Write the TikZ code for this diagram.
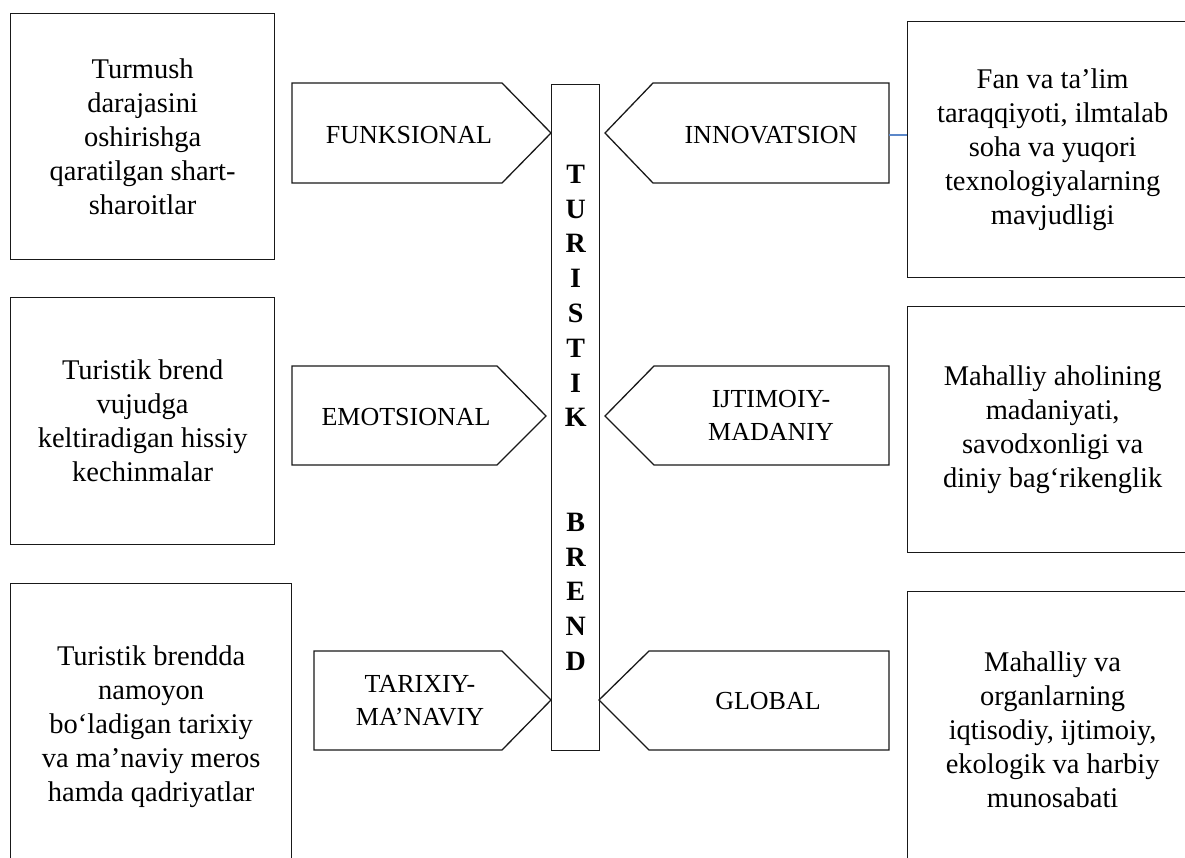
\documentclass[tikz,border=0pt]{standalone}
\usepackage{fontspec}
\setmainfont{Liberation Serif}
\definecolor{linkblue}{HTML}{5B87C9}
\begin{document}
\begin{tikzpicture}[x=1pt,y=-1pt,
  frame/.style={draw=black!90, line width=1.3pt},
  infobox/.style={frame, anchor=north west, inner sep=0pt, align=center,
    font=\fontsize{28.5}{34}\selectfont},
  tag/.style={inner sep=0pt, align=center, font=\fontsize{26}{33}\selectfont},
  pointer/.style={frame, line join=miter}]
\useasboundingbox (0,0) rectangle (1185,857);
\clip (0,0) rectangle (1185,857);

% left column of description boxes
\node[infobox, minimum width=264pt, minimum height=246pt] (tl) at (10,13)
  {Turmush\\darajasini\\oshirishga\\qaratilgan shart-\\sharoitlar};
\node[infobox, minimum width=264pt, minimum height=247pt] (ml) at (10,297)
  {Turistik brend\\vujudga\\keltiradigan hissiy\\kechinmalar};
\node[infobox, minimum width=281pt, minimum height=286pt] (bl) at (10,583)
  {Turistik brendda\\namoyon\\bo‘ladigan tarixiy\\va ma’naviy meros\\hamda qadriyatlar};

% right column of description boxes
\node[infobox, minimum width=290pt, minimum height=256pt] (tr) at (907,21)
  {Fan va ta’lim\\taraqqiyoti, ilmtalab\\soha va yuqori\\texnologiyalarning\\mavjudligi};
\node[infobox, minimum width=290pt, minimum height=246pt] (mr) at (907,306)
  {Mahalliy aholining\\madaniyati,\\savodxonligi va\\diniy bag‘rikenglik};
\node[infobox, minimum width=290pt, minimum height=277pt] (br) at (907,591)
  {Mahalliy va\\organlarning\\iqtisodiy, ijtimoiy,\\ekologik va harbiy\\munosabati};

% central vertical bar
\node[frame, anchor=north west, minimum width=48pt, minimum height=666pt,
  inner sep=0pt, align=center, font=\fontsize{28}{34.8}\selectfont\bfseries]
  (bar) at (551,84)
  {T\\U\\R\\I\\S\\T\\I\\K\\\mbox{}\\\mbox{}\\B\\R\\E\\N\\D};

% pointers towards the bar, left side
\draw[pointer] (292,83) -- (502,83) -- (551,133) -- (502,183) -- (292,183) -- cycle;
\draw[pointer] (292,366) -- (497,366) -- (546,416) -- (497,465) -- (292,465) -- cycle;
\draw[pointer] (314,651) -- (502,651) -- (551,700) -- (502,750) -- (314,750) -- cycle;

% pointers towards the bar, right side
\draw[pointer] (889,83) -- (653,83) -- (605,133) -- (653,183) -- (889,183) -- cycle;
\draw[pointer] (889,366) -- (654,366) -- (605,416) -- (654,465) -- (889,465) -- cycle;
\draw[pointer] (889,651) -- (649,651) -- (599,700) -- (649,750) -- (889,750) -- cycle;

% pointer labels
\node[tag, anchor=base] (fun) at (409,143) {FUNKSIONAL};
\node[tag, anchor=base] (emo) at (406,425) {EMOTSIONAL};
\node[tag] (tar) at (420,700.5) {TARIXIY-\\MA’NAVIY};
\node[tag, anchor=base] (inn) at (771,143) {INNOVATSION};
\node[tag] (ijt) at (771,415.5) {IJTIMOIY-\\MADANIY};
\node[tag, anchor=base] (glo) at (768,709) {GLOBAL};

% short link between the innovation pointer and its box
\coordinate (innE) at (889,135);
\draw[linkblue, line width=1.6pt] (innE) -- (innE -| tr.west);
\end{tikzpicture}
\end{document}
